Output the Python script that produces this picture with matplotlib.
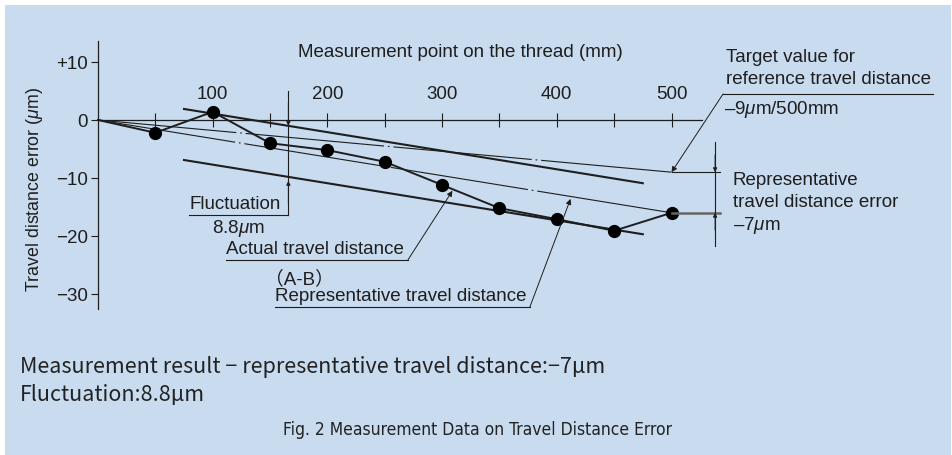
import matplotlib
matplotlib.use("Agg")
import matplotlib.pyplot as plt
from matplotlib.patches import Rectangle

plt.rcParams['font.family'] = ['Liberation Sans', 'Noto Sans CJK JP', 'DejaVu Sans']
plt.rcParams['mathtext.fontset'] = 'custom'
plt.rcParams['mathtext.rm'] = 'Liberation Sans'
plt.rcParams['mathtext.it'] = 'Liberation Sans:italic'

# measurement data (mm along thread, error in um)
points_mm = [0, 50, 100, 150, 200, 250, 300, 350, 400, 450, 500]
error_um = [0, -2.2, 1.4, -4.0, -5.2, -7.2, -11.2, -15.2, -17.1, -19.1, -16.0]

# reference lines
target_x = [0, 500]
target_y = [0, -9]
repr_x = [0, 500]
repr_y = [0, -16]

# envelope lines (parallel to representative line, 8.8um apart)
env_x = [75, 475]
env_upper = [1.9, -10.9]
env_lower = [-6.9, -19.7]

x_major = [100, 200, 300, 400, 500]
x_minor = [50, 150, 250, 350, 450]
y_ticks = [10, 0, -10, -20, -30]
y_ticklabels = ['+10', '0', '\u221210', '\u221220', '\u221230']

BG = '#c8dbef'
INK = '#1e1e1e'
FS = 13.5

fig = plt.figure(figsize=(9.53, 4.56), dpi=100, facecolor='white')
fig.patches.append(Rectangle((5 / 953, 0), 946 / 953, 450 / 456, transform=fig.transFigure,
                             facecolor=BG, edgecolor='none', zorder=-10))
ax = fig.add_axes([0, 0, 1, 1])
ax.set_facecolor('none')
ax.set_xlim(-85.4, 745.4)
ax.set_ylim(-57.76, 20.86)

# axes through origin
ax.spines['right'].set_visible(False)
ax.spines['bottom'].set_visible(False)
ax.spines['left'].set_position(('data', 0))
ax.spines['left'].set_bounds(-32.6, 13.6)
ax.spines['top'].set_position(('data', 0))
ax.spines['top'].set_bounds(0, 527)
for s in ('left', 'top'):
    ax.spines[s].set_linewidth(0.9)
    ax.spines[s].set_color(INK)

ax.xaxis.tick_top()
ax.set_xticks(x_major)
ax.set_xticks(x_minor, minor=True)
ax.tick_params(axis='x', which='both', direction='inout', length=10, width=0.8,
               color=INK, pad=8, labelsize=FS, labelcolor=INK)
ax.set_yticks(y_ticks)
ax.set_yticklabels(y_ticklabels)
ax.tick_params(axis='y', direction='out', length=5, width=0.8, color=INK,
               pad=2, labelsize=FS, labelcolor=INK)

ax.xaxis.set_label_position('top')
ax.set_xlabel('Measurement point on the thread (mm)', fontsize=FS, color=INK)
ax.xaxis.set_label_coords(0.483, 0.875)
ax.set_ylabel(r'Travel distance error ($\mu$m)', fontsize=12.8, color=INK)
ax.yaxis.set_label_coords(0.047, 0.585)

# lines
dashdot = (0, (125, 3.5, 1.5, 3.5))
ax.plot(target_x, target_y, color=INK, lw=0.8, linestyle=dashdot)
ax.plot(repr_x, repr_y, color=INK, lw=0.8, linestyle=dashdot)
ax.plot(env_x, env_upper, color=INK, lw=1.5)
ax.plot(env_x, env_lower, color=INK, lw=1.5)
ax.plot(points_mm, error_um, color=INK, lw=1.4)
ax.plot(points_mm[1:], error_um[1:], 'o', color='black', markersize=8.5)

arrow = dict(arrowstyle='-|>', color=INK, lw=0.7, mutation_scale=6, shrinkA=0, shrinkB=0)
leader = dict(arrowstyle='-|>', color=INK, lw=0.7, mutation_scale=8, shrinkA=0, shrinkB=0)

# fluctuation dimension
fx = 166
ax.plot([fx, fx], [5.0, -16.4], color=INK, lw=0.8)
ax.plot([79, fx], [-16.4, -16.4], color=INK, lw=0.8)
ax.annotate('', xy=(fx, -1.0), xytext=(fx, 3.0), arrowprops=arrow)
ax.annotate('', xy=(fx, -10.5), xytext=(fx, -14.5), arrowprops=arrow)
ax.text(120, -15.9, 'Fluctuation', ha='center', va='bottom', fontsize=FS, color=INK)
ax.text(122, -18.5, r'8.8$\mu$m', ha='center', va='center', fontsize=FS, color=INK)

# actual travel distance label
ax.plot([111.6, 270.3], [-24.1, -24.1], color=INK, lw=0.8)
ax.annotate('', xy=(309, -12.2), xytext=(270.3, -24.1), arrowprops=leader)
ax.text(189, -23.6, 'Actual travel distance', ha='center', va='bottom', fontsize=FS, color=INK)
ax.text(176, -27.3, '\uff08A-B\uff09', ha='center', va='center', fontsize=FS, color=INK)

# representative travel distance label
ax.plot([154, 376.6], [-32.2, -32.2], color=INK, lw=0.8)
ax.annotate('', xy=(412, -13.6), xytext=(376.6, -32.2), arrowprops=leader)
ax.text(264, -31.7, 'Representative travel distance', ha='center', va='bottom',
        fontsize=FS, color=INK)

# target value label
ax.plot([545, 728], [4.5, 4.5], color=INK, lw=0.8)
ax.annotate('', xy=(500, -9), xytext=(545, 4.5), arrowprops=leader)
ax.text(547.5, 11.0, 'Target value for', ha='left', va='center', fontsize=FS, color=INK)
ax.text(547.5, 7.2, 'reference travel distance', ha='left', va='center', fontsize=FS, color=INK)
ax.text(546, 1.9, '\u20139$\\mu$m/500mm', ha='left', va='center', fontsize=FS, color=INK)

# representative error dimension
dx = 538
ax.plot([500, 542], [-9, -9], color=INK, lw=0.8)
ax.plot([500, 542], [-16, -16], color='#666666', lw=1.8)
ax.plot([dx, dx], [-3.8, -21.7], color=INK, lw=0.8)
ax.annotate('', xy=(dx, -9), xytext=(dx, -6.0), arrowprops=arrow)
ax.annotate('', xy=(dx, -16), xytext=(dx, -19.0), arrowprops=arrow)
ax.text(553.6, -10.2, 'Representative', ha='left', va='center', fontsize=FS, color=INK)
ax.text(553.6, -14.1, 'travel distance error', ha='left', va='center', fontsize=FS, color=INK)
ax.text(553.6, -18.1, '\u20137$\\mu$m', ha='left', va='center', fontsize=FS, color=INK)

# notes below the chart
note_font = ['Noto Sans CJK JP', 'DejaVu Sans']
fig.text(20 / 953, 1 - 367 / 456, 'Measurement result \u2212 representative travel distance:\u22127\u03bcm',
         ha='left', va='center', fontsize=15.5, color='#222222', family=note_font)
fig.text(20 / 953, 1 - 395 / 456, 'Fluctuation:8.8\u03bcm',
         ha='left', va='center', fontsize=15.5, color='#222222', family=note_font)
fig.text(478 / 953, 1 - 430 / 456, 'Fig. 2 Measurement Data on Travel Distance Error',
         ha='center', va='center', fontsize=12.5, color='#222222',
         family='DejaVu Sans', fontstretch='condensed')

fig.savefig('out.png', dpi=100, facecolor='white')
